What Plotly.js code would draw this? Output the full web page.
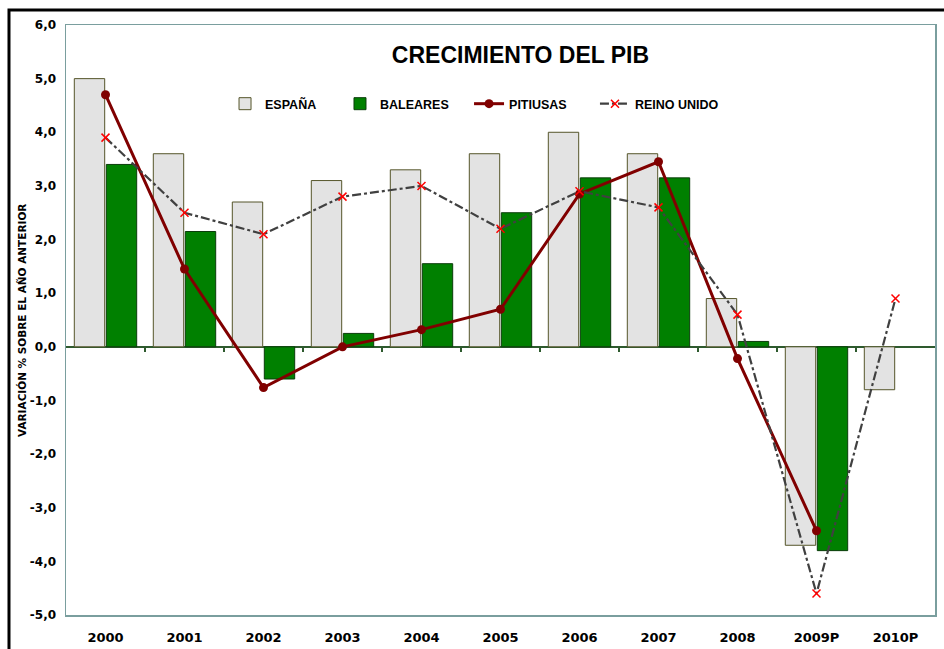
<!DOCTYPE html>
<html>
<head>
<meta charset="utf-8">
<script src="https://cdn.plot.ly/plotly-3.0.1.min.js"></script>
<style>html,body{margin:0;padding:0;background:#fff;}#chart{width:944px;height:649px;}</style>
</head>
<body>
<div id="chart"></div>
<script>
const categories = ['2000','2001','2002','2003','2004','2005','2006','2007','2008','2009P','2010P'];
const espana   = [5.0, 3.6, 2.7, 3.1, 3.3, 3.6, 4.0, 3.6, 0.9, -3.7, -0.8];
const baleares = [3.4, 2.15, -0.6, 0.25, 1.55, 2.5, 3.15, 3.15, 0.1, -3.8, null];
const pitiusas = [4.7, 1.45, -0.76, 0.0, 0.32, 0.7, 2.85, 3.45, -0.22, -3.43, null];
const reinoUnido = [3.9, 2.5, 2.1, 2.8, 3.0, 2.2, 2.9, 2.6, 0.6, -4.6, 0.9];
const seriesNames = ['ESPAÑA','BALEARES','PITIUSAS','REINO UNIDO'];
const yTickVals = [-5, -4, -3, -2, -1, 0, 1, 2, 3, 4, 5, 6];
const yTickText = ['-5,0','-4,0','-3,0','-2,0','-1,0','0,0','1,0','2,0','3,0','4,0','5,0','6,0'];
const yTitle = 'VARIACIÓN % SOBRE EL AÑO ANTERIOR';
const chartTitle = 'CRECIMIENTO DEL PIB';

const boundaryTicks = categories.slice(1).map((c, i) => i + 0.5);

const traces = [
  {type:'bar', name:seriesNames[0], x:categories, y:espana, legend:'legend',
   marker:{color:'#E3E3E3', line:{color:'#55552A', width:1}}},
  {type:'bar', name:seriesNames[1], x:categories, y:baleares, legend:'legend2',
   marker:{color:'#008000', line:{color:'#0B3D0B', width:1}}},
  {type:'scatter', mode:'lines+markers', name:seriesNames[2], x:categories, y:pitiusas, legend:'legend3',
   line:{color:'#800000', width:3}, marker:{color:'#800000', size:9, symbol:'circle'}},
  {type:'scatter', mode:'lines+markers', name:seriesNames[3], x:categories, y:reinoUnido, legend:'legend4',
   line:{color:'#404040', width:2.2, dash:'dashdot'},
   marker:{color:'#FF0000', size:8, symbol:'x-thin', line:{color:'#FF0000', width:1.5}}}
];

const legFont = {family:'Liberation Sans, Arial, sans-serif', size:12.5, color:'#000', weight:'bold'};
function leg(x){ return {x:x, y:0.866, xanchor:'left', yanchor:'middle', orientation:'h',
  bgcolor:'rgba(0,0,0,0)', borderwidth:0, font:legFont}; }

const layout = {
  width:944, height:649,
  margin:{l:66, r:9, t:25, b:34},
  paper_bgcolor:'#fff', plot_bgcolor:'#fff',
  barmode:'group', bargap:0.19, bargroupgap:0.05,
  title:{text:chartTitle, x:0.523, xref:'paper', y:0.949, yref:'paper', xanchor:'center', yanchor:'middle',
    font:{family:'Liberation Sans, Arial, sans-serif', size:23, color:'#000', weight:'bold'}},
  xaxis:{type:'category', range:[-0.5, categories.length - 0.5], showline:true, mirror:true, linecolor:'#7A9E9E', linewidth:1.5,
    ticks:'', showgrid:false, zeroline:false, ticklabelstandoff:10,
    tickfont:{family:'DejaVu Sans, Verdana, sans-serif', size:13, color:'#000', weight:'bold'}},
  xaxis2:{type:'linear', overlaying:'x', anchor:'free', position:5/11, side:'bottom',
    range:[-0.5, categories.length - 0.5], tickmode:'array', tickvals:boundaryTicks,
    ticks:'outside', ticklen:4, tickwidth:1.5, tickcolor:'#2E5A2E', showticklabels:false,
    showline:false, showgrid:false, zeroline:false},
  yaxis:{range:[-5, 6], tickmode:'array', tickvals:yTickVals, ticktext:yTickText, showline:true, mirror:true,
    linecolor:'#7A9E9E', linewidth:1.5, ticks:'', showgrid:false,
    zeroline:true, zerolinecolor:'#2E5A2E', zerolinewidth:2, ticklabelstandoff:6,
    tickfont:{family:'DejaVu Sans, Verdana, sans-serif', size:12, color:'#000', weight:'bold'}},
  annotations:[{text:yTitle, xref:'paper', yref:'paper', x:-0.0506, y:0.5, textangle:-90,
    showarrow:false, xanchor:'center', yanchor:'middle',
    font:{family:'DejaVu Sans, Verdana, sans-serif', size:10.5, color:'#000', weight:'bold'}}],
  legend:leg(0.183), legend2:leg(0.3153), legend3:leg(0.4638), legend4:leg(0.6087),
  shapes:[{type:'rect', xref:'paper', yref:'paper', x0:-0.0656, x1:1.05, y0:-0.1, y1:1.0254,
    line:{color:'#000', width:3}, fillcolor:'rgba(0,0,0,0)', layer:'above'}],
  showlegend:true
};

// invisible helper trace so the zero-line tick axis is drawn
traces.push({type:'scatter', x:[0], y:[0], xaxis:'x2', mode:'markers', marker:{opacity:0}, showlegend:false, hoverinfo:'skip'});

Plotly.newPlot('chart', traces, layout, {displayModeBar:false, staticPlot:true});
</script>
</body>
</html>
